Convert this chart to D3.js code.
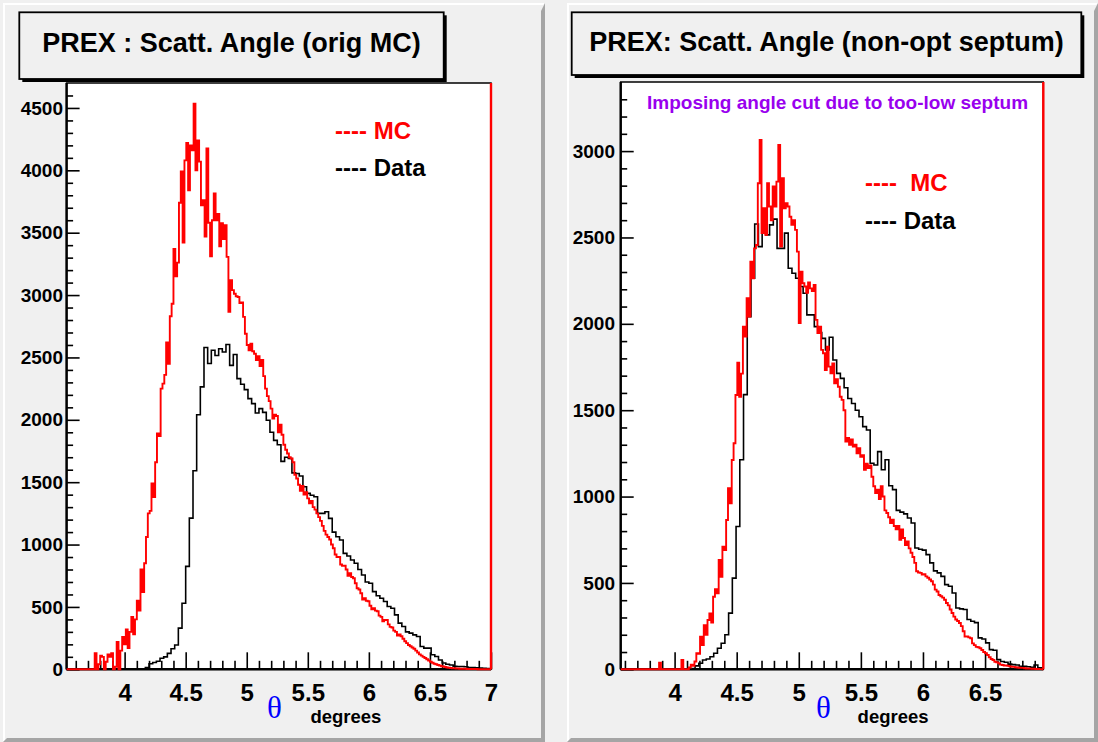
<!DOCTYPE html>
<html>
<head>
<meta charset="utf-8">
<title>PREX scattering angle</title>
<script src="https://d3js.org/d3.v7.min.js"></script>
<style>
  body { margin: 0; background: #f0f0f0; }
  svg { display: block; }
  text { font-family: "Liberation Sans", Arial, Helvetica, sans-serif; font-weight: bold; }
</style>
</head>
<body>
<script>
// ---- counts per bin ----
// left pad: original MC vs data
var leftMcStart = 3.5, leftMcWidth = 0.015;
var leftMC = [
  0,0,0,0,0,0,0,0,0,0,0,0,0,0,0,0,0,
  130,0,40,110,100,0,60,120,100,130,0,20,220,0,150,260,200,320,170,300,420,280,400,550,470,800,620,850,
  1060,1250,1270,1490,1380,1660,1890,1870,2250,2290,2360,2620,2450,2830,2930,3370,3150,3260,3740,3990,
  3420,4080,4220,3840,4200,4160,4535,4000,4240,4070,3720,3760,3470,4175,3580,3310,3600,3814,3600,3650,
  3390,3576,3450,3560,3306,2865,3120,3040,3010,2990,2985,2935,2940,2825,2690,
  2600,2558,2611,2550,2530,2480,2510,2430,2480,2350,2250,2190,2150,2090,2010,2040,2030,1900,1960,1880,
  1800,1760,1730,1700,1690,1660,1560,1530,1480,1430,1470,1400,1420,1370,1330,1350,1300,1280,1250,1220,
  1190,1150,1110,1080,1060,1040,1000,970,
  920,900,900,840,830,830,800,750,770,740,730,690,650,640,610,560,570,550,545,510,480,490,470,465,430,
  420,385,395,395,360,340,335,310,300,270,280,265,245,225,210,195,185,175,165,150,135,120,110,100,90,
  80,70,60,52,45,40,35,30,25,22,18,15,12,10,9,8,7,6,
  5,5,4,4,3,3,3,2,2,2,1,1,1,1,0,0,0,0
];
var leftDataStart = 3.51, leftDataWidth = 0.03;
var leftData = [
  0,0,0,0,0,0,0,0,0,0,0,0,0,0,0,0,0,0,0,0,0,0,
  15,45,55,65,88,100,128,165,195,330,530,825,1212,1592,2040,2264,2580,2452,2558,2516,2570,2543,2604,
  2436,2524,2330,2285,2242,2170,2130,2055,2090,2060,1997,1900,1835,1800,1667,1700,1690,1575,1570,1549,
  1463,1410,1395,1383,1250,1250,1263,1210,1100,1063,1036,929,908,876,850,800,756,700,690,623,590,570,
  543,503,490,436,370,343,300,290,276,263,183,170,170,117,103,75,50,40,35,25,23,22,20,15,14,12,10,8,7,5
];

// right pad: non-optimal septum MC vs data
var rightMcStart = 3.5, rightMcWidth = 0.015;
var rightMC = [
  0,0,0,0,0,0,0,0,0,0,0,0,0,0,0,0,0,0,0,0,0,0,0,0,0,
  38,0,0,0,0,0,0,0,0,0,0,0,54,0,0,0,
  10,27,20,45,93,90,189,141,256,200,285,324,270,420,463,440,633,536,710,690,864,1048,961,1212,1309,
  1588,1775,1578,1712,1984,1926,2148,2042,2360,2264,2437,2456,2814,3065,2525,2669,2515,2814,2679,2600,
  2795,2679,2823,3036,2447,2843,2669,2698,2679,2620,2573,2600,2544,2418,
  2004,2302,2235,2216,2180,2240,2205,2190,2225,2023,1946,1984,1849,1830,1733,1868,1752,1713,1771,1655,
  1680,1636,1578,1560,1500,1318,1340,1300,1330,1290,1300,1250,1280,1230,1240,1155,1190,1165,1180,1115,
  1060,1020,1040,985,1060,1000,920,905,880,847,866,830,810,830,750,810,760,720,740,700,
  675,650,616,568,560,558,548,550,538,530,520,510,490,461,450,430,423,415,403,384,370,346,326,305,288,
  280,268,250,220,190,190,185,180,150,140,130,128,122,112,100,93,83,70,60,54,44,40,35,27,25,22,22,20,
  17,15,14,12,10,9,8,8,6,5,5,4,3,3,2,2,1,1,0
];
var rightDataStart = 3.505, rightDataWidth = 0.03;
var rightData = [
  0,0,0,0,0,0,0,0,0,0,0,0,0,0,0,0,0,0,0,0,0,
  5,20,35,54,60,73,93,122,151,200,325,528,827,1213,1590,2042,2264,2578,2447,2525,2515,2573,2606,2437,
  2437,2525,2322,2293,2264,2216,2177,2052,2052,1984,1950,1916,1849,1922,1791,1713,1684,1630,1568,1539,
  1500,1462,1405,1385,1193,1183,1260,1155,1213,1063,1040,920,910,900,876,847,702,695,690,664,616,570,
  558,538,490,481,442,355,350,346,288,278,270,182,175,153,114,110,56,45,41,30,27,25,17,17,15,12,25,8,6
];

var leftTitle = "PREX : Scatt. Angle (orig MC)";
var rightTitle = "PREX: Scatt. Angle (non-opt septum)";
var rightNote = "Imposing angle cut due to too-low septum";
var mcLabelLeft = "---- MC", mcLabelRight = "----  MC", dataLabel = "---- Data";
var xUnit = "degrees";

// ---- canvas ----
var width = 1098, height = 742;
var svg = d3.select("body").append("svg")
    .attr("width", width)
    .attr("height", height);

svg.append("rect").attr("width", width).attr("height", height).attr("fill", "#f0f0f0");

// pad with a bevelled border (light top/left, grey bottom/right)
function drawPad(x0, x1) {
    var y0 = 3, y1 = 742, b = 4;
    svg.append("rect").attr("x", x0).attr("y", y0).attr("width", x1 - x0).attr("height", y1 - y0)
        .attr("fill", "#f0f0f0");
    svg.append("path").attr("fill", "#ffffff")
        .attr("d", `M${x0},${y1} V${y0} H${x1} l-2,2 H${x0 + 2} V${y1 - 2} Z`);
    svg.append("path").attr("fill", "#a5a5a5")
        .attr("d", `M${x1},${y0} V${y1} H${x0} l${b},-${b} H${x1 - b} V${y0 + b + 4} Z`);
}
drawPad(3, 545);
drawPad(567, 1098);

function drawPanel(cfg) {
    var x = d3.scaleLinear().domain(cfg.xDomain).range([cfg.left, cfg.right]);
    var y = d3.scaleLinear().domain([0, cfg.yMax]).range([cfg.bottom, cfg.top]);
    var g = svg.append("g");

    // title box with a hard black shadow
    var tb = cfg.titleBox;
    g.append("rect").attr("x", tb[0] + 3).attr("y", tb[1] + 3)
        .attr("width", tb[2] - tb[0]).attr("height", tb[3] - tb[1]).attr("fill", "#000");
    g.append("rect").attr("x", tb[0]).attr("y", tb[1])
        .attr("width", tb[2] - tb[0]).attr("height", tb[3] - tb[1])
        .attr("fill", "#f0f0f0").attr("stroke", "#000").attr("stroke-width", 1.8);
    g.append("text").attr("x", (tb[0] + tb[2]) / 2).attr("y", cfg.titleBaseline)
        .attr("text-anchor", "middle").attr("font-size", 27).text(cfg.title);

    // frame
    g.append("rect").attr("x", cfg.left).attr("y", cfg.top)
        .attr("width", cfg.right - cfg.left).attr("height", cfg.bottom - cfg.top)
        .attr("fill", "#fff").attr("stroke", "#000").attr("stroke-width", 1.5);

    var fmtX = d3.format("~f");

    // x axis: minor then major ticks, pointing inwards
    var xMinor = cfg.xMinor.filter(function(v) { return cfg.xMajor.indexOf(v) < 0; });
    g.append("g").attr("transform", `translate(0,${cfg.bottom})`)
        .call(d3.axisBottom(x).tickValues(xMinor).tickSizeInner(-8.5).tickSizeOuter(0).tickFormat(""))
        .call(function(a) { a.select(".domain").remove(); });
    var xa = g.append("g").attr("transform", `translate(0,${cfg.bottom})`)
        .call(d3.axisBottom(x).tickValues(cfg.xMajor).tickSizeInner(-17).tickSizeOuter(0)
            .tickPadding(14.5).tickFormat(fmtX));
    xa.select(".domain").remove();
    xa.selectAll("text").attr("font-size", 24).attr("fill", "#000")
        .style("font-family", "'Liberation Sans', Arial, sans-serif").style("font-weight", "bold");

    // y axis
    var yMinor = cfg.yMinor.filter(function(v) { return v % 500 !== 0; });
    g.append("g").attr("transform", `translate(${cfg.left},0)`)
        .call(d3.axisLeft(y).tickValues(yMinor).tickSizeInner(-6.5).tickSizeOuter(0).tickFormat(""))
        .call(function(a) { a.select(".domain").remove(); });
    var ya = g.append("g").attr("transform", `translate(${cfg.left},0)`)
        .call(d3.axisLeft(y).tickValues(cfg.yMajor).tickSizeInner(-13).tickSizeOuter(0)
            .tickPadding(cfg.yPad).tickFormat(d3.format("d")));
    ya.select(".domain").remove();
    ya.selectAll("text").attr("font-size", 19).attr("fill", "#000")
        .style("font-family", "'Liberation Sans', Arial, sans-serif").style("font-weight", "bold");
    g.selectAll(".tick line").attr("stroke", "#000").attr("stroke-width", 1.6);

    // thicker left and bottom axis lines
    g.append("line").attr("x1", cfg.left).attr("x2", cfg.left).attr("y1", cfg.top).attr("y2", cfg.bottom)
        .attr("stroke", "#000").attr("stroke-width", 2.4);
    g.append("line").attr("x1", cfg.left).attr("x2", cfg.right).attr("y1", cfg.bottom).attr("y2", cfg.bottom)
        .attr("stroke", "#000").attr("stroke-width", 2.4);

    // histograms, clipped to the frame
    g.append("clipPath").attr("id", cfg.id + "-clip")
        .append("rect").attr("x", cfg.left).attr("y", cfg.top)
        .attr("width", cfg.right - cfg.left).attr("height", cfg.bottom - cfg.top + 2);

    var line = d3.line().curve(d3.curveStepAfter)
        .x(function(d) { return x(d[0]); })
        .y(function(d) { return y(d[1]); });

    function histPoints(values, start, w) {
        var pts = [[start, 0]];
        values.forEach(function(v, i) { pts.push([start + i * w, v]); });
        pts.push([start + values.length * w, 0]);
        return pts;
    }

    var hg = g.append("g").attr("clip-path", `url(#${cfg.id}-clip)`);
    hg.append("path").datum(histPoints(cfg.data, cfg.dataStart, cfg.dataWidth))
        .attr("d", line).attr("fill", "none").attr("stroke", "#000").attr("stroke-width", 1.6);
    hg.append("path").datum(histPoints(cfg.mc, cfg.mcStart, cfg.mcWidth))
        .attr("d", line).attr("fill", "none").attr("stroke", "#ff0000").attr("stroke-width", 1.9);

    // red right edge of the frame
    g.append("line").attr("x1", cfg.right).attr("x2", cfg.right).attr("y1", cfg.top).attr("y2", cfg.bottom)
        .attr("stroke", "#ff0000").attr("stroke-width", 2.4);

    // legend
    g.append("text").attr("x", cfg.legendX).attr("y", cfg.legendY[0]).attr("font-size", 24)
        .attr("fill", "#ff0000").style("white-space", "pre").text(cfg.mcLabel);
    g.append("text").attr("x", cfg.legendX).attr("y", cfg.legendY[1]).attr("font-size", 24)
        .attr("fill", "#000").style("white-space", "pre").text(dataLabel);

    // x axis title: theta + unit
    g.append("text").attr("x", cfg.thetaX).attr("y", 718).attr("text-anchor", "middle")
        .attr("font-size", 31).attr("fill", "#0000ff")
        .style("font-family", "'Liberation Serif', 'DejaVu Serif', serif").style("font-weight", "normal")
        .text("\u03b8");
    g.append("text").attr("x", cfg.unitX).attr("y", 722.5).attr("font-size", 18.5).text(xUnit);

    return g;
}

drawPanel({
    id: "left", left: 66.6, right: 491, top: 83, bottom: 669.3,
    xDomain: [3.525, 7.0], yMax: 4700,
    xMajor: [4, 4.5, 5, 5.5, 6, 6.5, 7],
    xMinor: d3.range(36, 71).map(function(v) { return v / 10; }),
    yMajor: d3.range(0, 4501, 500), yMinor: d3.range(0, 4700, 100), yPad: 3.6,
    titleBox: [19.3, 12.3, 443.7, 79], titleBaseline: 52, title: leftTitle,
    mc: leftMC, mcStart: leftMcStart, mcWidth: leftMcWidth,
    data: leftData, dataStart: leftDataStart, dataWidth: leftDataWidth,
    legendX: 335, legendY: [138.7, 176], mcLabel: mcLabelLeft,
    thetaX: 274.5, unitX: 310.4
});

var rightPanel = drawPanel({
    id: "right", left: 620.7, right: 1043.3, top: 82, bottom: 669.3,
    xDomain: [3.566, 6.969], yMax: 3400,
    xMajor: [4, 4.5, 5, 5.5, 6, 6.5],
    xMinor: d3.range(36, 70).map(function(v) { return v / 10; }),
    yMajor: d3.range(0, 3001, 500), yMinor: d3.range(0, 3400, 100), yPad: 5.7,
    titleBox: [571.7, 12.3, 1081.3, 75], titleBaseline: 51, title: rightTitle,
    mc: rightMC, mcStart: rightMcStart, mcWidth: rightMcWidth,
    data: rightData, dataStart: rightDataStart, dataWidth: rightDataWidth,
    legendX: 865, legendY: [191.3, 229.3], mcLabel: mcLabelRight,
    thetaX: 823.5, unitX: 857.6
});

rightPanel.append("text").attr("x", 647).attr("y", 108.5).attr("font-size", 19)
    .attr("fill", "#9900ee").text(rightNote);
</script>
</body>
</html>
